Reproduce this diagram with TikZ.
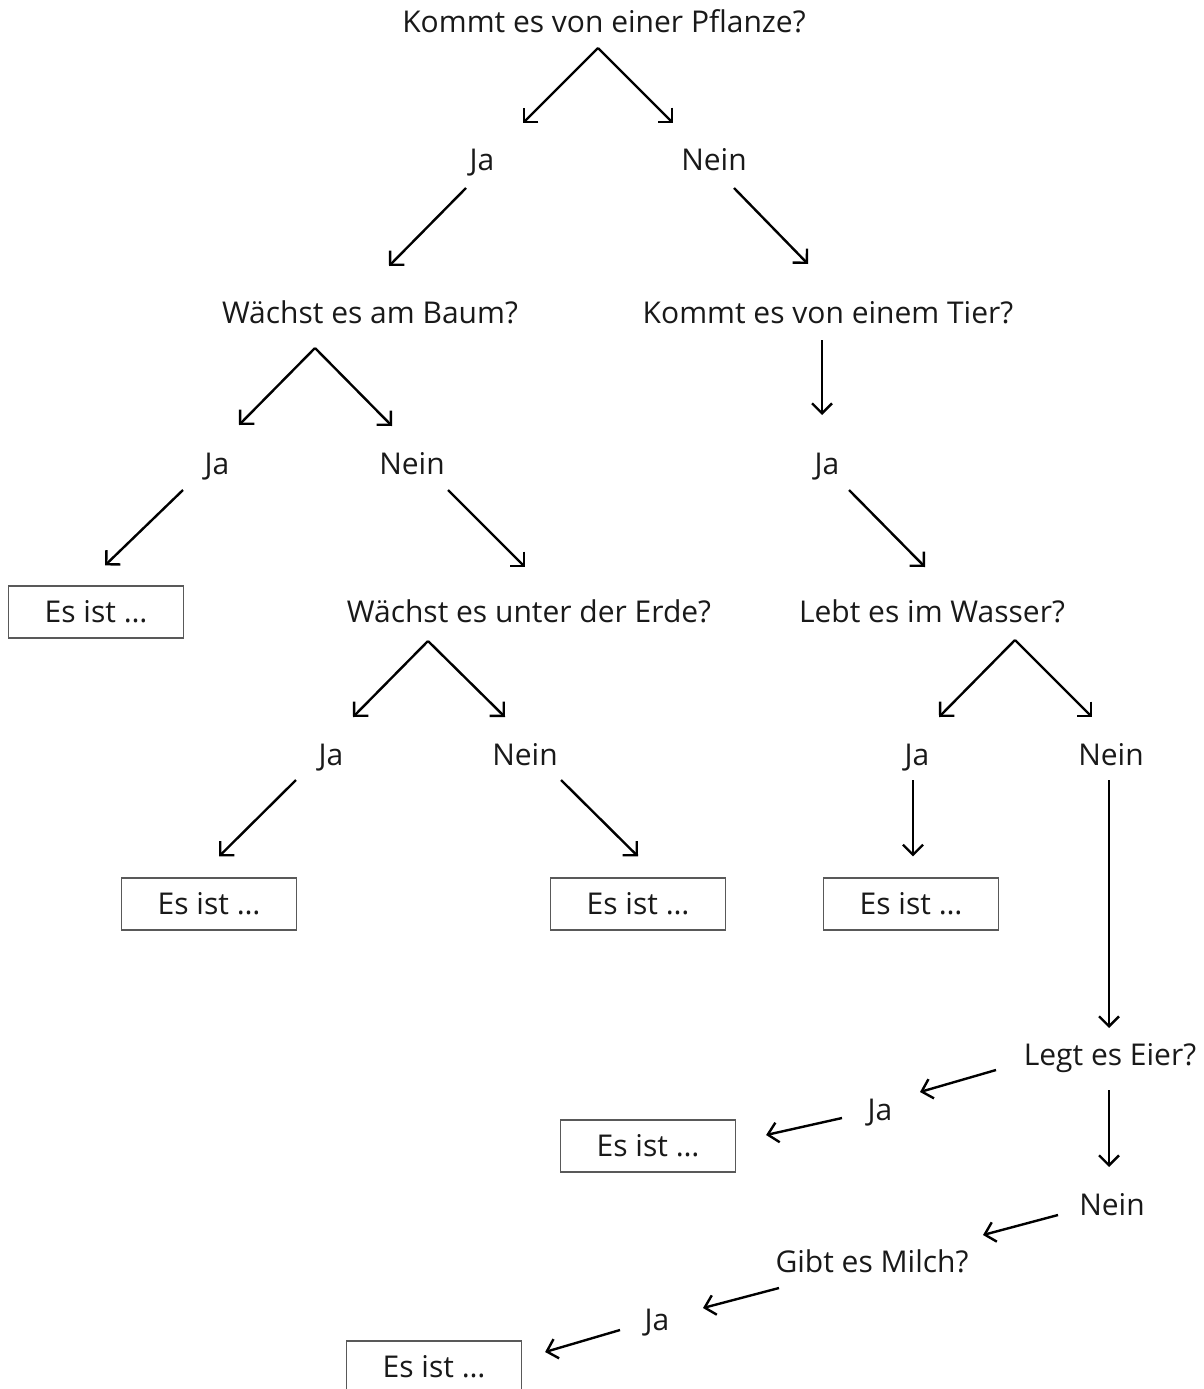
\documentclass[tikz,border=0pt]{standalone}
\usepackage{fontspec}
\setmainfont{Open Sans}
\usetikzlibrary{calc,arrows.meta}

\begin{document}
\begin{tikzpicture}[x=1pt,y=-1pt,
                    txt/.style={anchor=base,inner sep=0pt,text=black!90,
                                font=\fontsize{30}{36}\selectfont},
                    answer/.style={draw=black!65,line width=1.2pt,text=black!90,
                                   font=\fontsize{30}{36}\selectfont,
                                   minimum width=175pt,minimum height=52pt},
                    arr/.style={line width=2.4pt,
                                -{Straight Barb[length=10pt,width=20pt,line width=2.4pt]}}]
  \useasboundingbox (0,0) rectangle (1204,1389);
  % questions and answers
  \node[txt] (q1) at (604,33) {Kommt es von einer Pflanze?};
  \node[txt] (ja1) at (482,170) {Ja};
  \node[txt] (nein1) at (714,170) {Nein};
  \node[txt] (baum) at (370,323) {Wächst es am Baum?};
  \node[txt] (tier) at (828,323) {Kommt es von einem Tier?};
  \node[txt] (ja2) at (217,474) {Ja};
  \node[txt] (nein2) at (412,474) {Nein};
  \node[txt] (ja3) at (827,474) {Ja};
  \node[answer] (box1) at (96,612) {Es ist …};
  \node[txt] (erde) at (529,622) {Wächst es unter der Erde?};
  \node[txt] (wasser) at (932,622) {Lebt es im Wasser?};
  \node[txt] (ja4) at (331,765) {Ja};
  \node[txt] (nein4) at (525,765) {Nein};
  \node[txt] (ja5) at (917,765) {Ja};
  \node[txt] (nein5) at (1111,765) {Nein};
  \node[answer] (box2) at (209,904) {Es ist …};
  \node[answer] (box3) at (638,904) {Es ist …};
  \node[answer] (box4) at (911,904) {Es ist …};
  \node[txt] (eier) at (1110,1065) {Legt es Eier?};
  \node[txt] (ja6) at (880,1120) {Ja};
  \node[answer] (box5) at (648,1146) {Es ist …};
  \node[txt] (nein6) at (1112,1215) {Nein};
  \node[txt] (milch) at (872,1272) {Gibt es Milch?};
  \node[txt] (ja7) at (657,1330) {Ja};
  \node[answer] (box6) at (434,1367) {Es ist …};
  % arrows
  \draw[arr] ($(q1.base)+(-6,15)$) -- ($(ja1.base)+(41,-47)$);
  \draw[arr] ($(q1.base)+(-6,15)$) -- ($(nein1.base)+(-41,-47)$);
  \draw[arr] ($(ja1.base)+(-16,18)$) -- ($(baum.base)+(19,-57)$);
  \draw[arr] ($(nein1.base)+(20,18)$) -- ($(tier.base)+(-20,-59)$);
  \draw[arr] ($(baum.base)+(-55,25)$) -- ($(ja2.base)+(22,-49)$);
  \draw[arr] ($(baum.base)+(-55,25)$) -- ($(nein2.base)+(-20,-48)$);
  \draw[arr] ($(tier.base)+(-6,17)$) -- ($(ja3.base)+(-5,-59)$);
  \draw[arr] ($(ja2.base)+(-34,16)$) -- ($(box1.north)+(9,-20)$);
  \draw[arr] ($(nein2.base)+(36,16)$) -- ($(erde.base)+(-4,-55)$);
  \draw[arr] ($(ja3.base)+(22,16)$) -- ($(wasser.base)+(-7,-55)$);
  \draw[arr] ($(erde.base)+(-101,19)$) -- ($(ja4.base)+(22,-48)$);
  \draw[arr] ($(erde.base)+(-101,19)$) -- ($(nein4.base)+(-20,-48)$);
  \draw[arr] ($(wasser.base)+(83,18)$) -- ($(ja5.base)+(22,-48)$);
  \draw[arr] ($(wasser.base)+(83,18)$) -- ($(nein5.base)+(-19,-48)$);
  \draw[arr] ($(ja4.base)+(-35,15)$) -- ($(box2.north)+(10,-21)$);
  \draw[arr] ($(nein4.base)+(36,15)$) -- ($(box3.north)+(0,-21)$);
  \draw[arr] ($(ja5.base)+(-4,15)$) -- ($(box4.north)+(2,-21)$);
  \draw[arr] ($(nein5.base)+(-2,15)$) -- ($(eier.base)+(-1,-37)$);
  \draw[arr] ($(eier.base)+(-114,5)$) -- ($(ja6.base)+(40,-28)$);
  \draw[arr] ($(ja6.base)+(-38,-2)$) -- ($(box5.east)+(30,-11)$);
  \draw[arr] ($(eier.base)+(-1,25)$) -- ($(nein6.base)+(-3,-48)$);
  \draw[arr] ($(nein6.base)+(-54,0)$) -- ($(milch.base)+(111,-37)$);
  \draw[arr] ($(milch.base)+(-93,16)$) -- ($(ja7.base)+(46,-22)$);
  \draw[arr] ($(ja7.base)+(-37,0)$) -- ($(box6.east)+(23,-15)$);
\end{tikzpicture}
\end{document}
